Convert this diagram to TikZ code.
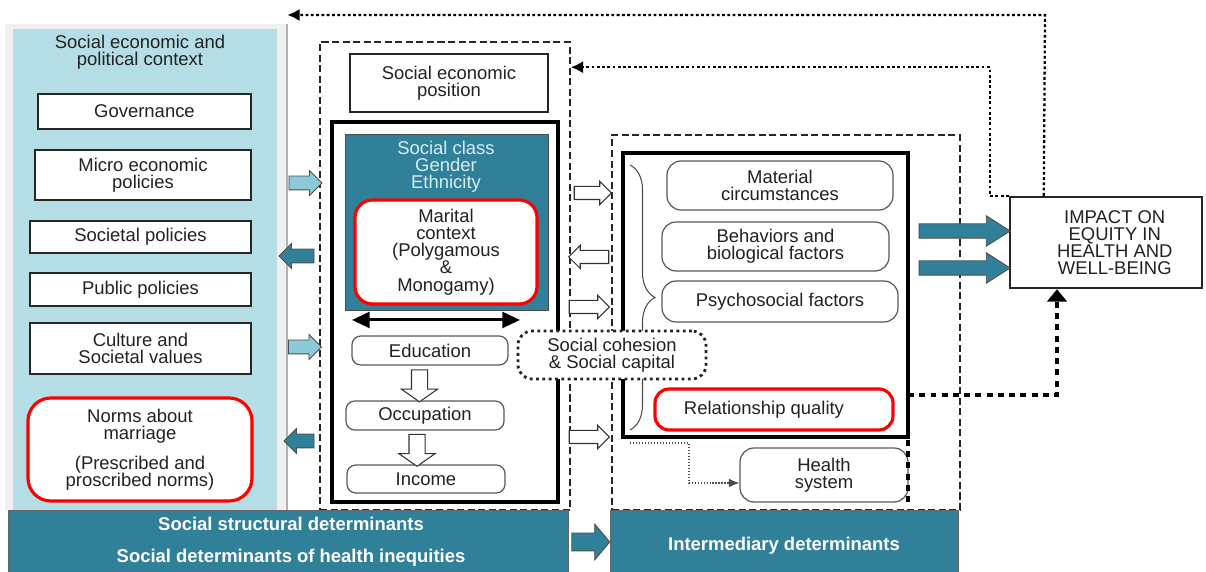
\documentclass[tikz,border=0pt]{standalone}
\usepackage{fontspec}
\setmainfont{Liberation Sans}
\usetikzlibrary{arrows.meta, shapes.arrows, positioning, calc, decorations.pathreplacing}
\definecolor{sdhteal}{HTML}{31809A}
\definecolor{sdhpanel}{HTML}{B5DDE6}
\definecolor{sdhlight}{HTML}{8CCADB}
\definecolor{sdhpale}{HTML}{D4EDF3}
\definecolor{sdhred}{HTML}{FF0000}
\definecolor{sdhink}{HTML}{222222}

\begin{document}
\begin{tikzpicture}[
    font=\fontsize{10.5}{9.8}\selectfont,
    every node/.style={text=sdhink},
    plainbox/.style={
        rectangle,
        draw=black!85,
        line width=0.9pt,
        fill=white,
        align=center,
        inner sep=0pt
    },
    softbox/.style={
        rectangle,
        rounded corners=5pt,
        draw=black!65,
        line width=0.7pt,
        fill=white,
        align=center,
        inner sep=0pt
    },
    redbox/.style={
        rectangle,
        rounded corners=10pt,
        draw=sdhred,
        line width=1.8pt,
        fill=white,
        align=center,
        inner sep=0pt
    },
    heavybox/.style={
        rectangle,
        draw=black,
        line width=2pt,
        inner sep=0pt
    },
    dashbox/.style={
        rectangle,
        draw=black!85,
        line width=0.9pt,
        dash pattern=on 4pt off 2pt,
        inner sep=0pt
    },
    band/.style={
        rectangle,
        draw=black!60,
        fill=sdhteal,
        text=white,
        font=\fontsize{10.5}{9.8}\selectfont\bfseries,
        align=center,
        inner sep=0pt
    },
    hollow/.style={
        single arrow,
        draw=black!80,
        fill=white,
        line width=0.6pt,
        inner sep=0.12cm,
        single arrow head extend=0.1cm,
        minimum height=#1
    },
    policyarrow/.style={
        single arrow,
        draw=black!70,
        line width=0.5pt,
        inner sep=0.13cm,
        single arrow head extend=0.11cm,
        minimum height=#1
    },
    stepdown/.style={
        single arrow,
        shape border rotate=270,
        draw=black!80,
        fill=white,
        line width=0.6pt,
        inner sep=0.15cm,
        single arrow head extend=0.2cm,
        single arrow tip angle=110,
        minimum height=0.64cm
    },
    bigarrow/.style={
        single arrow,
        draw=black!70,
        fill=sdhteal,
        line width=0.5pt
    },
    loopline/.style={
        -{Latex[length=7pt,width=7pt]},
        line width=1.3pt,
        dash pattern=on 1.6pt off 1.4pt
    },
    heavyline/.style={
        line width=2.3pt,
        dash pattern=on 3.4pt off 3pt
    }
]
\useasboundingbox (0,0) rectangle (24.12,11.44);

% Context panel
\node[rectangle, fill=black!6, minimum width=5.64cm, minimum height=9.72cm, inner sep=0pt] (ctxshade) at (2.92,6.10) {};
\draw[black!30, line width=1pt] (ctxshade.north east) -- (ctxshade.south east);
\node[rectangle, fill=sdhpanel, minimum width=5.28cm, minimum height=9.62cm, inner sep=0pt] (ctxpanel) at (2.90,6.05) {};
\node[align=center] (ctxtitle) at (2.80,10.40) {Social economic and\\political context};

% Context boxes
\node[plainbox, minimum width=4.26cm, minimum height=0.70cm] (govern) at (2.89,9.21) {Governance};
\node[plainbox, minimum width=4.32cm, minimum height=1.00cm] (micro) at (2.86,7.94) {Micro economic\\policies};
\node[plainbox, minimum width=4.42cm, minimum height=0.64cm] (societal) at (2.81,6.70) {Societal policies};
\node[plainbox, minimum width=4.42cm, minimum height=0.66cm] (public) at (2.81,5.65) {Public policies};
\node[plainbox, minimum width=4.42cm, minimum height=1.02cm] (culture) at (2.81,4.47) {Culture and\\Societal values};
\node[redbox, rounded corners=13pt, minimum width=4.48cm, minimum height=2.06cm] (norms) at (2.80,2.45) {Norms about\\marriage\\[7pt](Prescribed and\\proscribed norms)};

% Structural column
\node[dashbox, minimum width=5.00cm, minimum height=9.36cm] (structout) at (8.90,5.92) {};
\node[plainbox, minimum width=3.96cm, minimum height=1.16cm] (sep) at (8.98,9.78) {Social economic\\position};
\node[heavybox, minimum width=4.52cm, minimum height=7.60cm] (sepframe) at (8.90,5.20) {};
\node[rectangle, draw=black!70, fill=sdhteal, minimum width=4.06cm, minimum height=3.52cm, inner sep=0pt] (classbox) at (8.93,7.00) {};
\node[align=center, text=sdhpale] (classlbl) at (8.92,8.10) {Social class\\Gender\\Ethnicity};
\node[redbox, minimum width=3.64cm, minimum height=2.08cm] (marital) at (8.92,6.40) {Marital\\context\\(Polygamous\\\&\\Monogamy)};

\coordinate (rankl) at (7.04,5.04);
\coordinate (rankr) at (10.40,5.04);
\draw[{Triangle[length=10pt,width=9pt]}-{Triangle[length=10pt,width=9pt]}, line width=1.7pt] (rankl) -- (rankr);

\node[softbox, minimum width=3.12cm, minimum height=0.58cm] (educ) at (8.60,4.43) {Education};
\node[softbox, minimum width=3.16cm, minimum height=0.58cm] (occup) at (8.50,3.13) {Occupation};
\node[softbox, minimum width=3.16cm, minimum height=0.56cm] (income) at (8.52,1.86) {Income};
\node[stepdown] (educocc) at ($(educ.south)!0.5!(occup.north)+(-0.16,0)$) {};
\node[stepdown] (occinc) at ($(occup.south)!0.5!(income.north)+(-0.17,0)$) {};

% Intermediary column
\node[dashbox, minimum width=6.96cm, minimum height=7.50cm] (interout) at (15.72,4.99) {};
\node[heavybox, minimum width=5.70cm, minimum height=5.68cm] (interframe) at (15.31,5.54) {};
\coordinate (bracetop) at (12.60,8.14);
\coordinate (bracebot) at (12.60,2.84);
\draw[decorate, decoration={brace, amplitude=0.5cm}, black!70, line width=0.6pt] (bracetop) -- (bracebot);

\node[softbox, rounded corners=8pt, minimum width=4.52cm, minimum height=0.98cm] (material) at (15.60,7.73) {Material\\circumstances};
\node[softbox, rounded corners=8pt, minimum width=4.54cm, minimum height=0.98cm] (behave) at (15.51,6.51) {Behaviors and\\biological factors};
\node[softbox, rounded corners=8pt, minimum width=4.72cm, minimum height=0.82cm] (psycho) at (15.60,5.41) {Psychosocial factors};
\node[redbox, rounded corners=8pt, minimum width=4.76cm, minimum height=0.82cm] (relq) at (15.48,3.25) {Relationship quality\hspace*{0.4cm}};
\node[softbox, rounded corners=8pt, minimum width=3.36cm, minimum height=1.08cm] (health) at (16.48,1.94) {Health\\system};

\coordinate (hsin) at (12.60,2.58);
\draw[black!70, densely dotted, line width=0.7pt, -{Latex[length=6pt,width=5pt]}] (hsin) -- (13.78,2.58) |- ([yshift=-0.16cm]health.west);

% Social cohesion
\node[rectangle, rounded corners=8pt, draw=sdhink, line width=1.6pt, dotted, fill=white, align=center, minimum width=3.76cm, minimum height=0.96cm, inner sep=0pt] (cohesion) at (12.24,4.34) {Social cohesion\\\& Social capital};

% Bottom bands
\node[band, minimum width=11.20cm, minimum height=1.44cm] (structural) at (5.76,0.52) {};
\node[text=white, font=\fontsize{10.5}{9.8}\selectfont\bfseries, align=center] (structlbl) at (5.82,0.60) {Social structural determinants\\[8.5pt]Social determinants of health inequities};
\node[band, minimum width=6.96cm, minimum height=1.44cm] (intermediary) at (15.68,0.52) {Intermediary determinants};
\node[bigarrow, inner sep=0.17cm, minimum height=0.76cm, single arrow head extend=0.18cm, single arrow tip angle=100] (bandarrow) at (11.74,0.60) {};

% Impact
\node[plainbox, line width=1.4pt, minimum width=3.84cm, minimum height=1.82cm] (impact) at (22.12,6.59) {\hspace*{0.35cm}IMPACT ON\\\hspace*{0.35cm}EQUITY IN\\\hspace*{0.35cm}HEALTH AND\\\hspace*{0.35cm}WELL-BEING};
\node[bigarrow, inner sep=0.135cm, minimum height=1.82cm, single arrow head extend=0.16cm, single arrow tip angle=65] (impacta) at (19.18,6.82) {};
\node[bigarrow, inner sep=0.135cm, minimum height=1.82cm, single arrow head extend=0.16cm, single arrow tip angle=65] (impactb) at (19.18,6.08) {};

% Policy arrows
\node[policyarrow=0.66cm, fill=sdhlight] (ctxa) at (6.04,7.78) {};
\node[policyarrow=0.70cm, fill=sdhteal, shape border rotate=180] (ctxb) at (6.00,6.32) {};
\node[policyarrow=0.66cm, fill=sdhlight] (ctxc) at (6.03,4.50) {};
\node[policyarrow=0.60cm, fill=sdhteal, shape border rotate=180] (ctxd) at (6.05,2.62) {};

% Hollow arrows
\node[hollow=0.74cm] (mida) at (11.79,7.58) {};
\node[hollow=0.80cm, shape border rotate=180] (midb) at (11.84,6.30) {};
\node[hollow=0.80cm] (midc) at (11.72,5.30) {};
\node[hollow=0.80cm] (midd) at (11.72,2.70) {};

% Feedback
\coordinate (rqout) at (18.16,3.54);
\coordinate (hsout) at (18.16,1.40);
\draw[heavyline] (rqout) -- (hsout);
\draw[heavyline, -{Triangle[length=7pt,width=11pt]}] (rqout) -| ([xshift=-0.98cm]impact.south);
\coordinate (topfb) at (20.90,11.14);
\draw[loopline] ([xshift=0.70cm]impact.north west) -- (topfb) -- (topfb -| ctxshade.east);
\coordinate (sepfb) at ($(structout.north east)+(0,-0.52)$);
\draw[loopline] (impact.north west) -- ++(-0.38,0) |- (sepfb);

\end{tikzpicture}
\end{document}
